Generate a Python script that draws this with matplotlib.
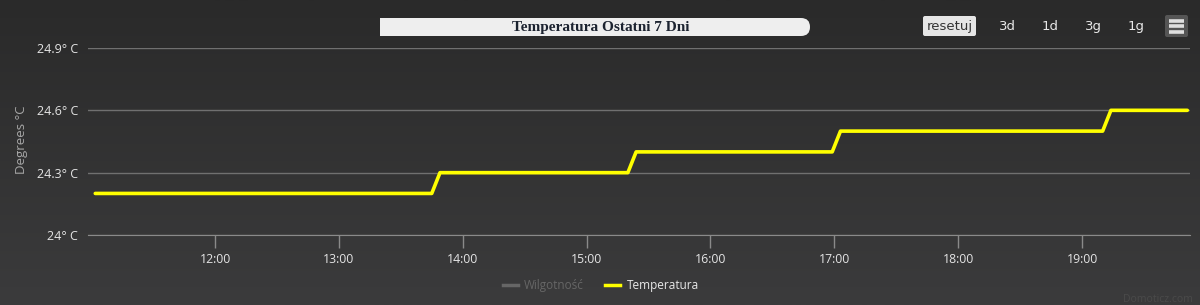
import matplotlib
matplotlib.use("Agg")
import matplotlib.pyplot as plt
import numpy as np
from matplotlib.patches import FancyBboxPatch, Rectangle

# ---- data ----
times = ["11:02", "13:45", "13:49", "15:20", "15:24", "16:59", "17:03", "19:10", "19:14", "19:51"]
temps = [24.2, 24.2, 24.3, 24.3, 24.4, 24.4, 24.5, 24.5, 24.6, 24.6]
xtick_labels = ["12:00", "13:00", "14:00", "15:00", "16:00", "17:00", "18:00", "19:00"]
ytick_values = [24.0, 24.3, 24.6, 24.9]
ytick_labels = ["24° C", "24.3° C", "24.6° C", "24.9° C"]
title = "Temperatura Ostatni 7 Dni"
buttons = ["3d", "1d", "3g", "1g"]
legend_items = ["Wilgotność", "Temperatura"]


def to_hours(s):
    h, m = s.split(":")
    return int(h) + int(m) / 60.0


x = [to_hours(t) for t in times]
xticks = [to_hours(t) for t in xtick_labels]

W, H = 1200, 305
fig = plt.figure(figsize=(W / 100, H / 100), dpi=100)

# background gradient
bg = fig.add_axes([0, 0, 1, 1], zorder=-10)
grad = np.linspace(0, 1, 256).reshape(-1, 1)
top = np.array([0x2a, 0x2a, 0x2a]) / 255
bot = np.array([0x3b, 0x3b, 0x3c]) / 255
img = top + (bot - top) * grad[..., None]
bg.imshow(img, aspect="auto", extent=[0, 1, 0, 1], origin="upper")
bg.set_xlim(0, 1)
bg.set_ylim(0, 1)
bg.axis("off")

font = "Open Sans"

ax = fig.add_axes([88 / W, 1 - 235 / H, (1190 - 88) / W, (235 - 48) / H])
ax.set_facecolor("none")
ax.plot(x, temps, color="#ffff00", lw=2.6, solid_joinstyle="round", solid_capstyle="round",
        zorder=3, clip_on=False)
ax.set_xlim(12 - (215 - 88) / 123.86, 19 + (1190 - 1082) / 123.86)
ax.set_ylim(24.0, 24.9)
ax.set_yticks(ytick_values)
ax.set_yticklabels(ytick_labels)
ax.set_xticks(xticks)
ax.set_xticklabels(xtick_labels)
ax.grid(axis="y", color="#707070", lw=1)
for s in ["top", "right", "left"]:
    ax.spines[s].set_visible(False)
ax.spines["bottom"].set_color("#8a8a8a")
ax.tick_params(axis="y", length=0, pad=7, labelcolor="#e4e4e4", labelsize=9)
ax.tick_params(axis="x", length=9, width=1, color="#8a8a8a", pad=4, labelcolor="#e4e4e4",
               labelsize=8.8)
for lab in ax.get_xticklabels() + ax.get_yticklabels():
    lab.set_fontfamily(font)
fig.text(22 / W, 1 - 140 / H, "Degrees °C", rotation=90, color="#a8a8a8", fontsize=9.5,
         fontfamily=font, ha="center", va="center")

# title box
ov = fig.add_axes([0, 0, 1, 1], zorder=5)
ov.set_xlim(0, W)
ov.set_ylim(H, 0)
ov.axis("off")
ov.add_patch(FancyBboxPatch((380, 18), 430, 18, boxstyle="round,pad=0,rounding_size=9",
                            fc="#eeeeee", ec="none"))
ov.add_patch(Rectangle((380, 18), 20, 18, fc="#eeeeee", ec="none"))
ov.text(601, 27.5, title, ha="center", va="center", fontsize=11, fontweight="bold",
        fontfamily="Liberation Serif", color="#1c2330")

# buttons
ov.add_patch(FancyBboxPatch((923, 16), 53, 20, boxstyle="round,pad=0,rounding_size=2",
                            fc="#e6e6e6", ec="none"))
ov.text(949.5, 26.5, "resetuj", ha="center", va="center", fontsize=9.5, fontfamily="DejaVu Sans",
        color="#333333")
for bx, b in zip([1007, 1050, 1093, 1136], buttons):
    ov.text(bx, 26.5, b, ha="center", va="center", fontsize=9.5, fontfamily="DejaVu Sans",
            color="#e8e8e8")
ov.add_patch(FancyBboxPatch((1165, 15), 23, 22, boxstyle="round,pad=0,rounding_size=2",
                            fc="#555555", ec="none"))
for yy in [20.5, 26, 31.5]:
    ov.plot([1169, 1184], [yy, yy], color="#e0e0e0", lw=2.6, solid_capstyle="butt")

# legend
ov.plot([503, 518], [285, 285], color="#666666", lw=2.5)
ov.text(524, 285, legend_items[0], ha="left", va="center", fontsize=8.5, fontfamily=font,
        color="#666666")
ov.plot([605, 620], [285, 285], color="#ffff00", lw=2.5)
ov.text(627, 285, legend_items[1], ha="left", va="center", fontsize=8.5, fontfamily=font,
        color="#e8e8e8")

ov.text(1193, 300, "Domoticz.com", ha="right", va="center", fontsize=7.5, fontfamily=font,
        color="#4a4a4a")

fig.savefig("out.png", dpi=100)
